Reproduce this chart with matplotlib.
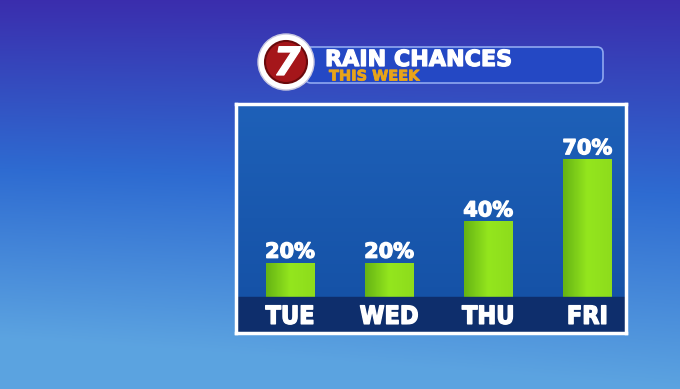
import numpy as np
import matplotlib.pyplot as plt
import matplotlib.patheffects as pe
from matplotlib.patches import Circle, FancyBboxPatch
from matplotlib.colors import LinearSegmentedColormap

days = ['TUE', 'WED', 'THU', 'FRI']
chances = [20, 20, 40, 70]
title = 'RAIN CHANCES'
subtitle = 'THIS WEEK'

fig = plt.figure(figsize=(6.8, 3.89), dpi=100)

# background wash
bg = fig.add_axes([0, 0, 1, 1])
yy, xx = np.mgrid[0:1:200j, 0:1:300j]
top = np.array([0.23, 0.18, 0.68])
mid = np.array([0.18, 0.42, 0.82])
bot = np.array([0.36, 0.64, 0.88])
t = np.clip(yy + 0.15 * (1 - xx) * yy, 0, 1)[..., None]
img = np.where(t < 0.5, top * (1 - 2 * t) + mid * 2 * t, mid * (2 - 2 * t) + bot * (2 * t - 1))
bg.imshow(img, extent=[0, 680, 389, 0], aspect='auto')
bg.set_xlim(0, 680)
bg.set_ylim(389, 0)
bg.axis('off')

heavy = [pe.withStroke(linewidth=0.9, foreground='white')]

# header: logo + banner
banner = FancyBboxPatch((305, 47), 298, 36, boxstyle='round,pad=0,rounding_size=6',
                        fc='#2448c4', ec='#8fa8f0', lw=1.2, zorder=2)
bg.add_patch(banner)
bg.add_patch(Circle((286, 62), 28, fc='white', ec='#c8c8e0', lw=1, zorder=3))
bg.add_patch(Circle((286, 62), 21, fc='#a5161a', ec='#6a0a0c', lw=1.5, zorder=4))
bg.text(287, 64, '7', color='white', fontsize=28, fontweight='bold', style='italic',
        ha='center', va='center', zorder=5, family='DejaVu Sans', path_effects=heavy)
bg.text(325, 60, title, color='white', fontsize=16, fontweight='bold',
        ha='left', va='center', zorder=5, family='DejaVu Sans', path_effects=heavy)
bg.text(329, 76, subtitle, color='#e8a41a', fontsize=10.5, fontweight='bold',
        ha='left', va='center', zorder=5, family='DejaVu Sans',
        path_effects=[pe.withStroke(linewidth=0.6, foreground='#e8a41a')])

# chart panel
ax = fig.add_axes([236 / 680, 1 - 333 / 389, 390 / 680, 229 / 389])
panel = LinearSegmentedColormap.from_list('panel', ['#1e60b8', '#1450a4'])
ax.imshow(np.linspace(0, 1, 50)[:, None] * np.ones((1, 2)), cmap=panel, origin='upper',
          extent=[-0.545, 3.39, -14, 96.6], aspect='auto', zorder=0)
ax.set_xlim(-0.545, 3.39)
ax.set_ylim(-14, 96.6)

green = LinearSegmentedColormap.from_list('bar', ['#66b414', '#94e61e', '#8edc1c'])
bars = ax.bar(range(len(days)), chances, width=0.49, color='#8edc1c', zorder=2)
for b in bars:
    x0, w, h = b.get_x(), b.get_width(), b.get_height()
    im = ax.imshow(np.linspace(0, 1, 40)[None, :], cmap=green,
                   extent=[x0, x0 + w, 0, h], aspect='auto', zorder=3)
    im.set_clip_path(b)
    ax.text(x0 + w / 2, h + 0.4, f'{h:.0f}%', color='white', fontsize=15,
            fontweight='bold', ha='center', va='bottom', zorder=6,
            family='DejaVu Sans', path_effects=heavy)

# dark strip with day names
ax.axhspan(-14, 3.4, color='#0e2e6c', zorder=4)
for i, d in enumerate(days):
    ax.text(i, -6.2, d, color='white', fontsize=18, fontweight='bold',
            fontstretch='condensed', ha='center', va='center', zorder=6,
            family='DejaVu Sans',
            path_effects=[pe.withStroke(linewidth=1.0, foreground='white')])

ax.set_xticks([])
ax.set_yticks([])
for s in ax.spines.values():
    s.set_color('white')
    s.set_linewidth(2.5)
    s.set_zorder(7)

fig.savefig('out.png', dpi=100)
